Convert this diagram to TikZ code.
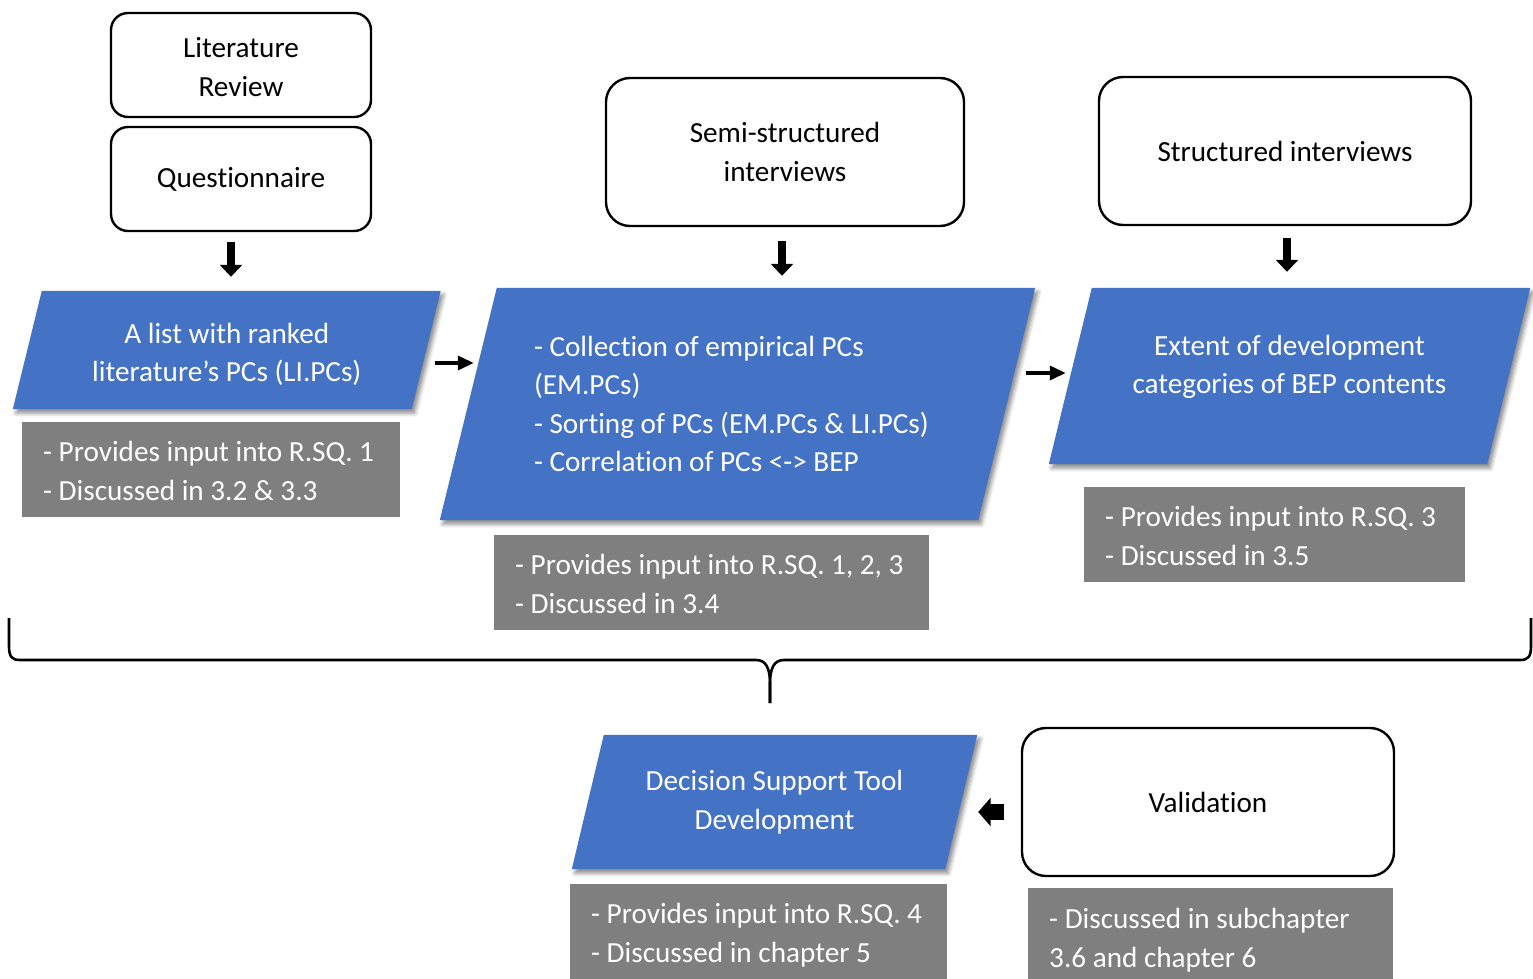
\documentclass[tikz,border=0pt]{standalone}
\usepackage{fontspec}
\setmainfont{Carlito}[Ligatures=NoCommon]
\usetikzlibrary{calc,arrows.meta,backgrounds,shadows.blur}

\definecolor{accentblue}{HTML}{4472C4}
\definecolor{notegray}{HTML}{7F7F7F}
\newcommand\fs{\fontsize{29.2}{38.5}\selectfont}
% fixed first-line height and last-line depth for multi-line texts
\newcommand\notetop[1]{\rule{0pt}{#1}}
\newcommand\notebot[1]{\rule[-#1]{0pt}{#1}}

\tikzset{
  stage/.style={draw=black, line width=2.4pt, fill=white, align=center, font=\fs, inner sep=0pt},
  note/.style={fill=notegray, text=white, align=flush left, anchor=north west,
               inner xsep=21pt, inner ysep=0pt, font=\fs},
  blockshape/.style={minimum width=#1, inner sep=0pt, text=white, font=\fs},
  blockfill/.style={fill=accentblue, blur shadow={shadow xshift=3pt, shadow yshift=-4pt,
                    shadow blur radius=4pt, shadow opacity=45}},
  downarrow/.style={line width=8pt, -{Triangle[width=22pt,length=12pt]}},
  thinarrow/.style={line width=3.5pt, -{Triangle[width=14pt,length=16pt]}},
  backarrow/.style={line width=15.5pt, -{Triangle[width=28pt,length=12.5pt]}},
  brace/.style={line width=2.6pt, line join=round},
}

% slanted process block behind node (#1): half-slant #2, shape offset #3 downwards
\newcommand\slantbox[3]{%
  \begin{scope}[on background layer]
    \fill[blockfill] ($(#1.north west)+(#2,#3)$) -- ($(#1.north east)+(#2,#3)$)
      -- ($(#1.south east)+(-#2,#3)$) -- ($(#1.south west)+(-#2,#3)$) -- cycle;
  \end{scope}}

\begin{document}
\begin{tikzpicture}[x=1pt,y=-1pt]
\useasboundingbox (0,0) rectangle (1533,979);

% method boxes
\node[stage, rounded corners=17pt, minimum width=260pt, minimum height=104pt] (lit) at (241,65)
  {\notetop{31pt}Literature\\Review\notebot{6.5pt}};
\node[stage, rounded corners=17pt, minimum width=260pt, minimum height=104pt] (q) at (241,179)
  {Questionnaire};
\node[stage, rounded corners=24pt, minimum width=358pt, minimum height=148pt] (semi) at (785,152)
  {Semi-structured\\interviews};
\node[stage, rounded corners=24pt, minimum width=372pt, minimum height=148pt] (struct) at (1285,151)
  {Structured interviews};
\node[stage, rounded corners=24pt, minimum width=372pt, minimum height=148pt] (val) at (1208,802)
  {Validation};

% outcome blocks
\node[blockshape=398.5pt, minimum height=118pt, align=center] (p1) at (226.75,354.5)
  {A list with ranked\\literature’s PCs (LI.PCs)};
\slantbox{p1}{14.5}{-4.5}
\node[blockshape=538pt, minimum height=232pt, align=flush left, text width=407pt] (p2) at (737.5,404)
  {- Collection of empirical PCs\\(EM.PCs)\\- Sorting of PCs (EM.PCs \& LI.PCs)\\- Correlation of PCs <-> BEP};
\slantbox{p2}{28.5}{0}
\node[blockshape=438pt, minimum height=176pt, align=center] (p3) at (1289.5,367)
  {Extent of development\\categories of BEP contents};
\slantbox{p3}{21.5}{9}
\node[blockshape=373pt, minimum height=134pt, align=center] (p4) at (774.5,802)
  {Decision Support Tool\\Development};
\slantbox{p4}{16}{0}

% notes
\node[note, text width=336pt] (g1) at (22,422)
  {\notetop{39.5pt}- Provides input into R.SQ. 1\\- Discussed in 3.2 \& 3.3\notebot{17pt}};
\node[note, text width=393pt] (g2) at (494,535)
  {\notetop{39.5pt}- Provides input into R.SQ. 1, 2, 3\\- Discussed in 3.4\notebot{17pt}};
\node[note, text width=339pt] (g3) at (1084,487)
  {\notetop{39.5pt}- Provides input into R.SQ. 3\\- Discussed in 3.5\notebot{17pt}};
\node[note, text width=335pt] (g4) at (570,884)
  {\notetop{39.5pt}- Provides input into R.SQ. 4\\- Discussed in chapter 5\notebot{17pt}};
\node[note, text width=323pt] (g5) at (1028,888)
  {\notetop{40.5pt}- Discussed in subchapter\\3.6 and chapter 6\notebot{12pt}};

% flow arrows
\draw[downarrow] ([xshift=-10pt,yshift=-10pt]q.south) -- ([xshift=4.25pt,yshift=18.5pt]p1.north);
\draw[downarrow, shorten <=14pt, shorten >=12pt] ([xshift=-3pt]semi.south) -- ([xshift=-3pt]semi.south |- p2.north);
\draw[downarrow, shorten <=12pt, shorten >=7pt] ([xshift=2pt]struct.south) -- ([xshift=2pt]struct.south |- p3.north);

\coordinate (a1) at ([xshift=9pt,yshift=-8.5pt]p1.east);
\draw[thinarrow, shorten >=-5.5pt] (a1) -- (a1 -| p2.west);
\coordinate (a2) at ([xshift=19.5pt,yshift=31pt]p2.east);
\draw[thinarrow, shorten >=4.5pt] (a2) -- (a2 -| p3.west);
\coordinate (a3) at ([xshift=-17pt,yshift=-10pt]val.west);
\draw[backarrow, shorten >=17pt] (a3) -- (a3 -| p4.east);

% brace gathering the three study stages
\draw[brace] (9,618) -- (9,646) .. controls (9,657) and (12,660) .. (20,660) -- (756,660)
  .. controls (766,660) and (770,668) .. (770,684) -- (770,703);
\draw[brace] (1531,618) -- (1531,646) .. controls (1531,657) and (1528,660) .. (1520,660) -- (784,660)
  .. controls (774,660) and (770,668) .. (770,684) -- (770,703);
\end{tikzpicture}
\end{document}
